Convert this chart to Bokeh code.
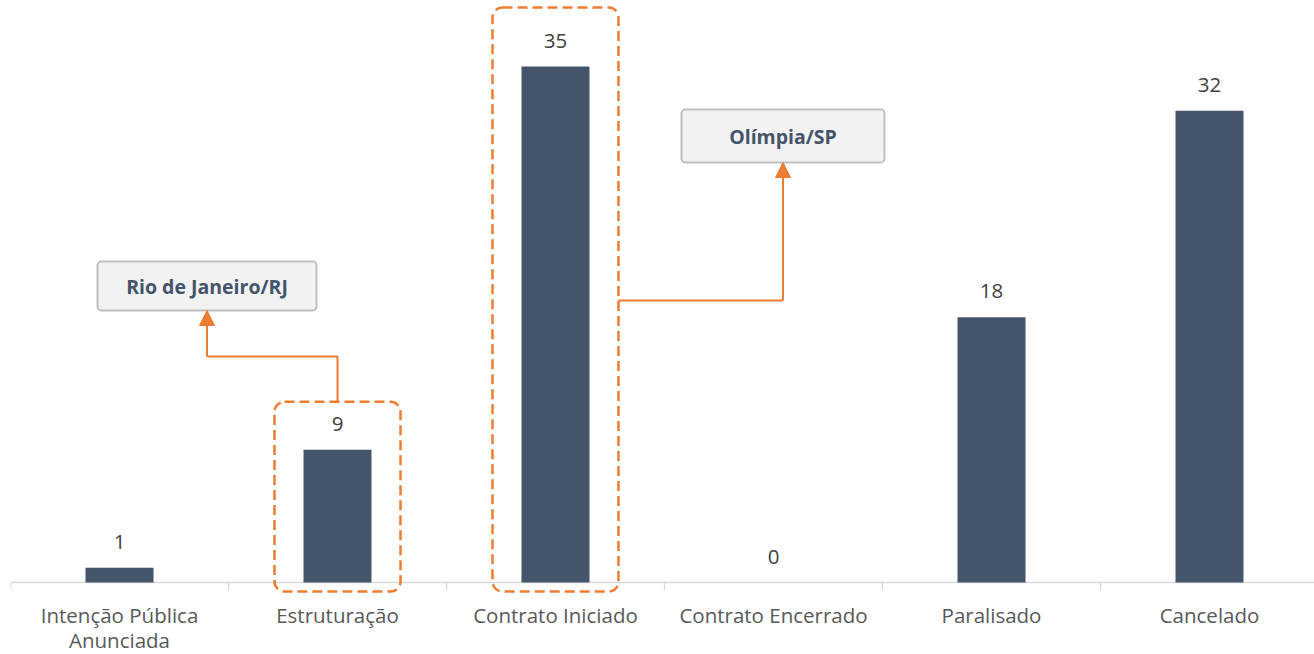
from bokeh.plotting import figure
from bokeh.models import Range1d, BoxAnnotation, Arrow, NormalHead, Label
from bokeh.core.properties import value
from bokeh.embed import file_html
from bokeh.resources import INLINE

# ---- data ----
categories = ["Intenção Pública\nAnunciada", "Estruturação", "Contrato Iniciado",
              "Contrato Encerrado", "Paralisado", "Cancelado"]
counts = [1, 9, 35, 0, 18, 32]
callout_texts = ["Rio de Janeiro/RJ", "Olímpia/SP"]
callout_bars = [1, 2]          # which category each callout refers to

# ---- layout ----
FIG_W, FIG_H = 1314, 654
LEFT = 10
CAT_PX = 218
BASE_PX = 582            # figure-y of the zero line
TOP_PX = 66              # figure-y of the tallest bar top
k = (BASE_PX - TOP_PX) / max(counts)      # px per unit
px = lambda d: d / k                       # pixels -> data units (y)
cx = lambda d: d / CAT_PX                  # pixels -> data units (x)

FONT = value("Open Sans")
BAR = "#44546a"
ORANGE = "#ed7d31"

p = figure(width=FIG_W, height=FIG_H, output_backend="svg", toolbar_location=None,
           x_axis_type=None, y_axis_type=None,
           x_range=Range1d(0, (FIG_W - LEFT) / CAT_PX),
           y_range=Range1d(-(FIG_H - BASE_PX) / k, BASE_PX / k),
           min_border_left=LEFT, min_border_right=0, min_border_top=0, min_border_bottom=0)
p.outline_line_color = None
p.grid.visible = False
p.background_fill_color = "white"
p.border_fill_color = "white"

n = len(categories)
xs = [i + 0.5 for i in range(n)]

# baseline and ticks
p.segment(x0=[0], y0=[0], x1=[n], y1=[0], line_color="#d9d9d9", line_width=1.5)
p.segment(x0=list(range(n + 1)), y0=[0] * (n + 1), x1=list(range(n + 1)),
          y1=[-px(8)] * (n + 1), line_color="#d9d9d9", line_width=1.5)

# bars
p.vbar(x=xs, top=counts, bottom=0, width=cx(68), fill_color=BAR, line_color=None)

# value labels
p.text(x=xs, y=[c + px(26) for c in counts], text=[str(c) for c in counts],
       text_align="center", text_baseline="middle", text_font=FONT,
       text_font_size="20.5px", text_color="#404040")

# category labels (one text row per line)
lines = [c.split("\n") for c in categories]
for row, dy in enumerate([32, 57]):
    sel = [(x, ln[row]) for x, ln in zip(xs, lines) if len(ln) > row]
    p.text(x=[s[0] for s in sel], y=[-px(dy)] * len(sel), text=[s[1] for s in sel],
           text_align="center", text_baseline="middle",
           text_font=FONT, text_font_size="20.5px", text_color="#595959")

# dashed highlight boxes
half = cx(63)
box_pad_px = [48, 59]
for b, pad in zip(callout_bars, box_pad_px):
    p.add_layout(BoxAnnotation(left=b + 0.5 - half, right=b + 0.5 + half,
                               top=counts[b] + px(pad), bottom=-px(9),
                               fill_alpha=0, line_color=ORANGE, line_alpha=1, line_width=2.5,
                               line_dash="10 5", border_radius=10))

# callout boxes (left, right, top, bottom in data units)
rio = dict(left=cx(87), right=cx(306), top=px(321), bottom=px(272))
oli = dict(left=cx(671), right=cx(874), top=px(473), bottom=px(420))
for box, txt in zip([rio, oli], callout_texts):
    p.add_layout(BoxAnnotation(**box, fill_color="#f2f2f2", fill_alpha=1,
                               line_color="#bfbfbf", line_alpha=1, line_width=2,
                               border_radius=4))
    p.add_layout(Label(x=(box["left"] + box["right"]) / 2, y=(box["top"] + box["bottom"]) / 2,
                       text=txt, text_align="center", text_baseline="middle",
                       text_font="Open Sans", text_font_size="19.5px",
                       text_font_style="bold", text_color="#44546a"))

# connectors
rio_cx = (rio["left"] + rio["right"]) / 2
b1 = callout_bars[0]
p.line(x=[b1 + 0.5, b1 + 0.5, rio_cx], y=[counts[b1] + px(box_pad_px[0]), px(226), px(226)],
       line_color=ORANGE, line_width=2)
p.add_layout(Arrow(x_start=rio_cx, y_start=px(226), x_end=rio_cx, y_end=rio["bottom"],
                   line_color=ORANGE, line_width=2,
                   end=NormalHead(size=15, fill_color=ORANGE, line_color=ORANGE)))

oli_cx = (oli["left"] + oli["right"]) / 2
b2 = callout_bars[1]
p.line(x=[b2 + 0.5 + half, oli_cx], y=[px(282), px(282)], line_color=ORANGE, line_width=2)
p.add_layout(Arrow(x_start=oli_cx, y_start=px(282), x_end=oli_cx, y_end=oli["bottom"],
                   line_color=ORANGE, line_width=2,
                   end=NormalHead(size=15, fill_color=ORANGE, line_color=ORANGE)))

open("out.html", "w").write(file_html(p, INLINE))
